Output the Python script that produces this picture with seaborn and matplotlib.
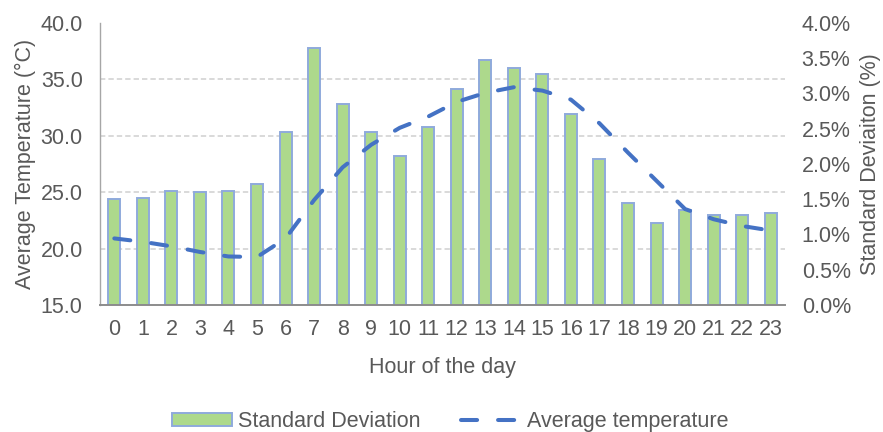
import numpy as np
import pandas as pd
import matplotlib
matplotlib.use("Agg")
import matplotlib.pyplot as plt
import seaborn as sns
from matplotlib.ticker import FixedLocator, FuncFormatter

# Hourly profile: average temperature (°C) and its standard deviation (%)
hours = list(range(24))
hour_labels = [str(h) for h in hours]
std_dev_pct = [1.50, 1.52, 1.62, 1.60, 1.62, 1.72, 2.45, 3.65, 2.85, 2.45, 2.11, 2.53,
               3.06, 3.48, 3.36, 3.27, 2.71, 2.07, 1.45, 1.16, 1.34, 1.28, 1.28, 1.30]
avg_temp = [20.9, 20.6, 20.2, 19.7, 19.3, 19.25, 20.9, 24.3, 27.2, 29.2, 30.7, 31.7,
            33.0, 33.8, 34.3, 34.0, 33.2, 31.1, 28.5, 26.0, 23.5, 22.6, 22.0, 21.6]
temp_ticks = [15, 20, 25, 30, 35, 40]
std_ticks = [0.0, 0.5, 1.0, 1.5, 2.0, 2.5, 3.0, 3.5, 4.0]

df = pd.DataFrame({"hour": hours, "std": std_dev_pct, "temp": avg_temp})

sns.set_theme(style="white")
plt.rcParams["font.family"] = ["Liberation Sans", "DejaVu Sans"]
TXT = "#595959"
FS = 15.5

fig = plt.figure(figsize=(8.83, 4.32), dpi=100)
ax = fig.add_axes([0.1133, 0.294, 0.7757, 0.653])
ax2 = ax.twinx()

# bars on the secondary (percentage) axis
sns.barplot(data=df, x="hour", y="std", ax=ax2, color="#ADD98C", saturation=1,
            edgecolor="#8FAADC", linewidth=1.4, width=0.42,
            label="Standard Deviation", legend=False)

# temperature line on the primary axis, drawn above the bars
sns.lineplot(data=df, x="hour", y="temp", ax=ax, color="#4472C4", linewidth=2.9,
             linestyle=(0, (4.0, 5.2)), dash_capstyle="round",
             label="Average temperature", legend=False)
ax.set_zorder(ax2.get_zorder() + 1)
ax.patch.set_visible(False)

ax.set_xlim(-0.5, 23.5)
ax.set_ylim(15, 40)
ax2.set_ylim(0, 4.0)

ax.set_xticks(hours)
ax.set_xticklabels(hour_labels)
ax.yaxis.set_major_locator(FixedLocator(temp_ticks))
ax.yaxis.set_major_formatter(FuncFormatter(lambda v, p: f"{v:.1f}"))
ax2.yaxis.set_major_locator(FixedLocator(std_ticks))
ax2.yaxis.set_major_formatter(FuncFormatter(lambda v, p: f"{v:.1f}%"))

# horizontal gridlines at the temperature ticks, kept behind the bars
ax2.yaxis.set_minor_locator(FixedLocator([4.0 * (t - 15) / 25 for t in temp_ticks]))
ax2.grid(False, which="major")
ax2.grid(True, which="minor", axis="y", color="#CFCFCF", linestyle=(0, (3.5, 2)), linewidth=1.1)
ax2.set_axisbelow(True)
ax.grid(False)

for a in (ax, ax2):
    a.tick_params(axis="both", which="both", length=0, labelsize=FS, labelcolor=TXT)
    for s in a.spines.values():
        s.set_visible(False)
ax.tick_params(axis="x", pad=10)
ax.tick_params(axis="y", pad=12.5)
ax2.tick_params(axis="y", pad=12)

ax.spines["left"].set_visible(True)
ax.spines["left"].set_color("#A6A6A6")
ax.spines["left"].set_linewidth(1.0)
ax.spines["bottom"].set_visible(True)
ax.spines["bottom"].set_color("#8C8C8C")
ax.spines["bottom"].set_linewidth(1.4)

ax.set_xlabel("Hour of the day", fontsize=FS, color=TXT, labelpad=12)
ax2.set_xlabel("")
ax.set_ylabel("Average Temperature (°C)", fontsize=FS, color=TXT)
ax2.set_ylabel("Standard Deviaiton (%)", fontsize=FS, color=TXT)
ax.yaxis.set_label_coords(-0.093, 0.5)
ax2.yaxis.set_label_coords(1.109, 0.5)

h1, l1 = ax2.get_legend_handles_labels()
h2, l2 = ax.get_legend_handles_labels()
fig.legend(h1 + h2, l1 + l2, loc="lower center", bbox_to_anchor=(0.51, -0.045),
           ncol=2, frameon=False, fontsize=FS, labelcolor=TXT,
           handlelength=2.8, handleheight=0.6, handletextpad=0.25, columnspacing=1.9)

fig.savefig("out.png", dpi=100, facecolor="white")
